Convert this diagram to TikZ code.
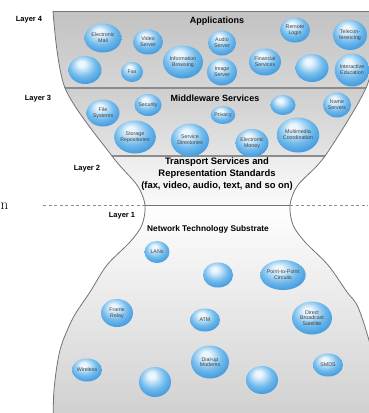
\documentclass[tikz,border=0pt]{standalone}
\usepackage{fontspec}
\setsansfont{Liberation Sans}
\usepackage{xcolor}
\usepackage{tikz}
\usetikzlibrary{shapes.geometric}

\definecolor{bubhi}{RGB}{236,246,253}
\definecolor{bubmid}{RGB}{112,186,236}
\definecolor{bubedge}{RGB}{36,134,212}
\definecolor{fourtop}{RGB}{194,194,194}
\definecolor{fourbot}{RGB}{214,214,214}
\definecolor{threetop}{RGB}{206,206,206}
\definecolor{threebot}{RGB}{228,228,228}
\definecolor{twotop}{RGB}{236,236,236}
\definecolor{twobot}{RGB}{250,250,250}
\definecolor{onebot}{RGB}{205,205,205}

\pgfdeclareradialshading{bubble}{\pgfpoint{-6bp}{12bp}}{color(0bp)=(bubhi); color(5bp)=(bubhi); color(20bp)=(bubmid); color(38bp)=(bubedge); color(60bp)=(bubedge)}

\begin{document}
\begin{tikzpicture}[
    x=1pt, y=-1pt,
    bubble/.style={ellipse, shading=bubble, inner sep=0pt, align=center, text=black!75, font=\sffamily\fontsize{5.3}{5.8}\selectfont},
    title/.style={font=\sffamily\bfseries\fontsize{9}{11.5}\selectfont, align=center},
    layer/.style={font=\sffamily\bfseries\fontsize{7.5}{9}\selectfont},
    outline/.style={draw=black!55, line width=0.8pt},
    divider/.style={draw=black!45, line width=1.6pt}
]
    \useasboundingbox (0,0) rectangle (368,413);

    % hourglass body
    \begin{scope}
        \clip plot[smooth] coordinates {(53,11) (65,88) (112,156) (137,185) (145,205) (142,225) (130,242) (107,265) (90,292) (73,318) (60,350) (54,390) (53,430)}
            -- plot[smooth] coordinates {(380,430) (373,360) (366,330) (357,305) (347,292) (328,265) (305,242) (293,225) (290,205) (298,185) (325,156) (366,88) (376,40) (378,11)} -- cycle;
        \shade[top color=fourtop, bottom color=fourbot] (0,11) rectangle (400,88);
        \shade[top color=threetop, bottom color=threebot] (0,88) rectangle (400,156);
        \shade[top color=twotop, bottom color=twobot] (0,156) rectangle (400,205);
        \shade[top color=white, bottom color=onebot] (0,205) rectangle (400,430);
        \draw[divider] (0,88) -- (400,88);
        \draw[divider] (0,156) -- (400,156);
        \draw[outline] (0,205) -- (400,205);
    \end{scope}
    \draw[outline] plot[smooth] coordinates {(53,11) (65,88) (112,156) (137,185) (145,205) (142,225) (130,242) (107,265) (90,292) (73,318) (60,350) (54,390) (53,430)};
    \draw[outline] plot[smooth] coordinates {(380,430) (373,360) (366,330) (357,305) (347,292) (328,265) (305,242) (293,225) (290,205) (298,185) (325,156) (366,88) (376,40) (378,11)};
    \draw[outline] (53,11) -- (378,11);
    \draw[black!45, line width=0.8pt, dash pattern=on 3pt off 2.5pt] (43,205) -- (145,205);
    \draw[black!45, line width=0.8pt, dash pattern=on 3pt off 2.5pt] (290,205) -- (368,205);

    \node[font=\fontsize{15}{15}\selectfont, anchor=base west, inner sep=0pt] (cut) at (0.5,209) {n};

    % layer labels and titles
    \node[layer] (l4) at (29,20) {Layer 4};
    \node[layer] (l3) at (38,99) {Layer 3};
    \node[layer] (l2) at (87,169) {Layer 2};
    \node[layer] (l1) at (122,216) {Layer 1};
    \node[title] (apps) at (217,21) {Applications};
    \node[title] (mware) at (215,98) {Middleware Services};
    \node[title, font=\sffamily\bfseries\fontsize{9.4}{11.6}\selectfont] (transport) at (217,174) {Transport Services and\\Representation Standards\\(fax, video, audio, text, and so on)};
    \node[title, font=\sffamily\bfseries\fontsize{8.3}{10}\selectfont] (netsub) at (208,229) {Network Technology Substrate};

    % layer 4
    \node[bubble, minimum width=37, minimum height=29] (email) at (103,38) {Electronic\\Mail};
    \node[bubble, minimum width=30, minimum height=25] (video) at (148,42) {Video\\Server};
    \node[bubble, minimum width=28, minimum height=25] (audio) at (222,43) {Audio\\Server};
    \node[bubble, minimum width=30, minimum height=25] (remote) at (295,30) {Remote\\Login};
    \node[bubble, minimum width=34, minimum height=30] (telecon) at (350,35) {Telecon-\\ferencing};
    \node[bubble, minimum width=33, minimum height=28] (blankA) at (85,70) {};
    \node[bubble, minimum width=22, minimum height=20] (fax) at (132,72) {Fax};
    \node[bubble, minimum width=40, minimum height=33] (info) at (183,62) {Information\\Browsing};
    \node[bubble, minimum width=30, minimum height=27] (image) at (222,72) {Image\\Server};
    \node[bubble, minimum width=32, minimum height=27] (financial) at (265,62) {Financial\\Services};
    \node[bubble, minimum width=33, minimum height=28] (blankB) at (312,68) {};
    \node[bubble, minimum width=32, minimum height=33] (interactive) at (352,70) {Interactive\\Education};

    % layer 3
    \node[bubble, minimum width=33, minimum height=27] (filesys) at (103,113) {File\\Systems};
    \node[bubble, minimum width=27, minimum height=22] (security) at (148,105) {Security};
    \node[bubble, minimum width=38, minimum height=33] (storage) at (135,137) {Storage\\Repositories};
    \node[bubble, minimum width=38, minimum height=33] (servdir) at (190,140) {Service\\Directories};
    \node[bubble, minimum width=23, minimum height=18] (privacy) at (223,115) {Privacy};
    \node[bubble, minimum width=25, minimum height=20] (blankC) at (283,105) {};
    \node[bubble, minimum width=31, minimum height=28] (money) at (252,143) {Electronic\\Money};
    \node[bubble, minimum width=40, minimum height=35] (multimedia) at (298,135) {Multimedia\\Coordination};
    \node[bubble, minimum width=28, minimum height=25] (names) at (337,105) {Name\\Servers};

    % layer 1
    \node[bubble, minimum width=25, minimum height=22] (lans) at (157,252) {LANs};
    \node[bubble, minimum width=30, minimum height=25] (blankD) at (218,275) {};
    \node[bubble, minimum width=37, minimum height=30] (p2p) at (283,275) {Point-to-Point\\Circuits};
    \node[bubble, minimum width=32, minimum height=28] (frame) at (117,313) {Frame\\Relay};
    \node[bubble, minimum width=30, minimum height=23] (atm) at (205,320) {ATM};
    \node[bubble, minimum width=40, minimum height=33] (dbs) at (312,318) {Direct\\Broadcast\\Satellite};
    \node[bubble, minimum width=30, minimum height=23] (wireless) at (87,370) {Wireless};
    \node[bubble, minimum width=32, minimum height=30] (blankE) at (155,382) {};
    \node[bubble, minimum width=38, minimum height=33] (dialup) at (210,362) {Dial-up\\Modems};
    \node[bubble, minimum width=32, minimum height=28] (blankF) at (262,380) {};
    \node[bubble, minimum width=30, minimum height=23] (smds) at (328,365) {SMDS};
\end{tikzpicture}
\end{document}
